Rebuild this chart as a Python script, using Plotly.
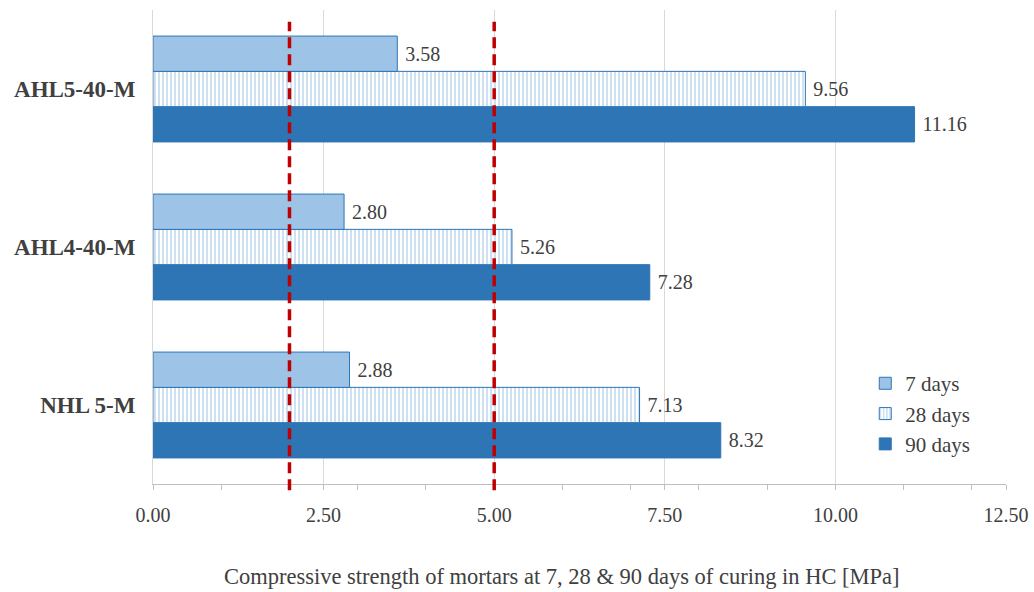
import plotly.graph_objects as go

# Mortar mixes (bottom to top on the chart)
mixes = ["NHL 5-M", "AHL4-40-M", "AHL5-40-M"]

# Compressive strength [MPa] per curing age, in the same order as mixes
strength_7d = [2.88, 2.80, 3.58]
strength_28d = [7.13, 5.26, 9.56]
strength_90d = [8.32, 7.28, 11.16]

# Reference strength levels marked with dashed lines [MPa]
limit_lines = [2.0, 5.0]

x_ticks = [0, 2.5, 5, 7.5, 10, 12.5]
x_tick_text = ["0.00", "2.50", "5.00", "7.50", "10.00", "12.50"]

x_title = "Compressive strength of mortars at 7, 28 &amp; 90 days of curing in HC [MPa]"

serif = "Liberation Serif"
text_col = "#404040"
blue_dark = "#2E75B6"
blue_light = "#9DC3E6"

fig = go.Figure()

label_font = dict(family=serif, size=20, color=text_col)
label_tpl = "\u2005%{x:.2f}"

fig.add_trace(go.Bar(
    name="90 days", y=mixes, x=strength_90d, orientation="h",
    marker=dict(color=blue_dark, line=dict(color=blue_dark, width=1)),
    texttemplate=label_tpl, textposition="outside", textfont=label_font,
    legendrank=3, cliponaxis=False,
))
fig.add_trace(go.Bar(
    name="28 days", y=mixes, x=strength_28d, orientation="h",
    marker=dict(
        color="white",
        line=dict(color=blue_dark, width=1),
        pattern=dict(shape="|", fgcolor=blue_light, bgcolor="white",
                     size=4, solidity=0.5, fillmode="overlay"),
    ),
    texttemplate=label_tpl, textposition="outside", textfont=label_font,
    legendrank=2, cliponaxis=False,
))
fig.add_trace(go.Bar(
    name="7 days", y=mixes, x=strength_7d, orientation="h",
    marker=dict(color=blue_light, line=dict(color=blue_dark, width=1)),
    texttemplate=label_tpl, textposition="outside", textfont=label_font,
    legendrank=1, cliponaxis=False,
))

for v in limit_lines:
    fig.add_shape(
        type="line", xref="x", yref="paper",
        x0=v, x1=v, y0=-0.013, y1=0.975,
        line=dict(color="#C00000", width=3.5, dash="11px,6px"),
        layer="above",
    )

fig.add_annotation(
    text=x_title, xref="paper", yref="paper", x=0.4795, y=-0.195,
    xanchor="center", yanchor="middle", showarrow=False,
    font=dict(family=serif, size=22.5, color=text_col),
)

fig.update_layout(
    width=1034, height=592,
    margin=dict(l=153, r=28, t=10, b=108, autoexpand=False),
    paper_bgcolor="white", plot_bgcolor="white",
    barmode="group", bargap=0.33, bargroupgap=0,
    font=dict(family=serif, color=text_col),
    showlegend=True,
    legend=dict(
        x=0.835, y=0.255, xanchor="left", yanchor="top",
        traceorder="normal",
        font=dict(family=serif, size=21, color=text_col),
        bgcolor="rgba(0,0,0,0)",
    ),
    xaxis=dict(
        range=[0, 12.5], tickvals=x_ticks, ticktext=x_tick_text,
        automargin=False,
        showgrid=True, gridcolor="#D9D9D9", gridwidth=1,
        zeroline=False, showline=True, linecolor="#BFBFBF",
        ticks="outside", ticklen=5, tickcolor="#BFBFBF",
        ticklabelstandoff=8,
        minor=dict(dtick=1, ticks="outside", ticklen=5, tickcolor="#BFBFBF",
                   showgrid=False),
        tickfont=dict(family=serif, size=20, color=text_col),
    ),
    yaxis=dict(
        categoryorder="array", categoryarray=mixes,
        automargin=False,
        showgrid=False, showline=True, linecolor="#D9D9D9",
        ticks="", ticklabelstandoff=12,
        tickfont=dict(family=serif, size=23, color=text_col, weight="bold"),
    ),
)

fig.write_html("out.html")
